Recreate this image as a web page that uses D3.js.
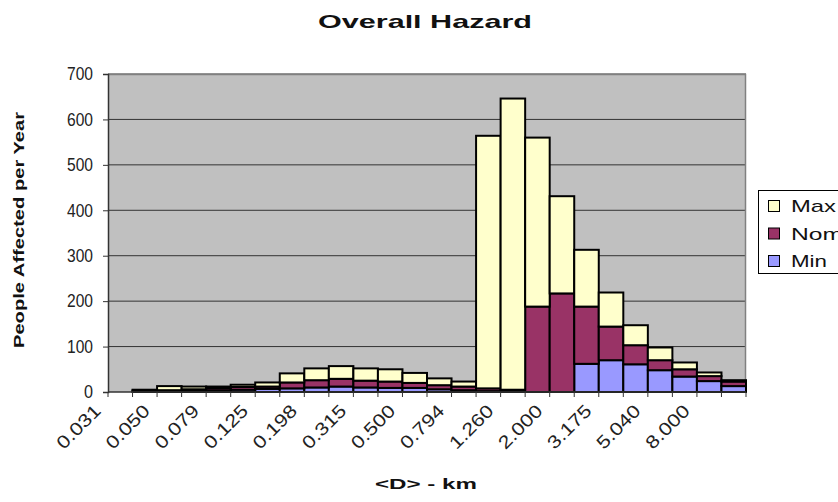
<!DOCTYPE html>
<html>
<head>
<meta charset="utf-8">
<script src="https://cdn.jsdelivr.net/npm/d3@7"></script>
<style>
  body { margin: 0; background: #fff; }
  svg { display: block; font-family: "Liberation Sans", Arial, sans-serif; }
</style>
</head>
<body>
<svg width="838" height="502"></svg>
<script>
// bins of <D> in km (every other one is labelled on the axis)
const categories = ['0.031','0.040','0.050','0.063','0.079','0.100','0.125','0.158','0.198','0.250',
  '0.315','0.397','0.500','0.630','0.794','1.000','1.260','1.587','2.000','2.520',
  '3.175','4.000','5.040','6.350','8.000','10.079'];
// stacked segments, bottom to top
const minVals = [0,1,1,2,3,5,7,8,10,12,10,9,9,6,4,2,1,0,0,62,70,61,48,34,24,13];
const nomVals = [0,2,3,4,5,6,5,13,16,17,15,14,11,9,8,6,4,188,217,126,74,42,22,16,11,10];
const maxVals = [0,2,9,6,4,5,9,20,26,28,27,27,22,15,11,556,641,372,214,125,75,44,28,15,8,3];
const seriesNames = ['Min','Nom','Max'];
const colors = {Min: '#9999ff', Nom: '#993366', Max: '#ffffcc'};
const yTicks = [0,100,200,300,400,500,600,700];

const svg = d3.select('svg');
const margin = {top: 74, left: 108, right: 92, bottom: 110};
const width = +svg.attr('width');
const height = +svg.attr('height');
const plotW = width - margin.left - margin.right;
const plotH = height - margin.top - margin.bottom;

const data = categories.map((c, i) => ({cat: c, Min: minVals[i], Nom: nomVals[i], Max: maxVals[i]}));

const x = d3.scaleBand().domain(categories).range([0, plotW]).padding(0);
const y = d3.scaleLinear().domain([0, 700]).range([plotH, 0]);

const g = svg.append('g').attr('transform', `translate(${margin.left},${margin.top})`);

// plot area
g.append('rect').attr('width', plotW).attr('height', plotH).attr('fill', '#c0c0c0');

// gridlines
g.append('g').selectAll('line').data(yTicks.slice(1))
  .enter().append('line')
  .attr('x1', 0).attr('x2', plotW)
  .attr('y1', d => y(d)).attr('y2', d => y(d))
  .attr('stroke', '#333').attr('stroke-width', 1);

// frame top/right
g.append('path').attr('d', `M0,0.5H${plotW - 0.5}V${plotH}`)
  .attr('fill', 'none').attr('stroke', '#808080').attr('stroke-width', 1.5);

// bars
const stacked = d3.stack().keys(seriesNames)(data);
g.append('g').selectAll('g').data(stacked)
  .enter().append('g')
  .attr('fill', d => colors[d.key])
  .selectAll('rect').data(d => d.filter(s => s[1] - s[0] > 0))
  .enter().append('rect')
  .attr('x', d => x(d.data.cat))
  .attr('width', x.bandwidth())
  .attr('y', d => y(d[1]))
  .attr('height', d => y(d[0]) - y(d[1]))
  .attr('stroke', '#000').attr('stroke-width', 2);

// y axis
const yAxis = g.append('g').call(d3.axisLeft(y).tickValues(yTicks).tickSize(5).tickPadding(10));
yAxis.select('.domain').attr('stroke', '#333').attr('stroke-width', 1.5);
yAxis.selectAll('.tick line').attr('stroke', '#333');
yAxis.selectAll('text').attr('font-size', 18).attr('fill', '#222')
  .attr('font-family', '"Liberation Sans", Arial, sans-serif')
  .attr('textLength', d => d === 0 ? 9 : 26).attr('lengthAdjust', 'spacingAndGlyphs');

// x axis: ticks between categories, labels on every other bin edge
const xa = g.append('g').attr('transform', `translate(0,${plotH})`);
xa.append('line').attr('x1', 0).attr('x2', plotW).attr('stroke', '#333').attr('stroke-width', 1.5);
xa.selectAll('.tk').data(categories.concat(['end']))
  .enter().append('line').attr('class', 'tk')
  .attr('x1', (d, i) => i * x.step()).attr('x2', (d, i) => i * x.step())
  .attr('y1', 0).attr('y2', 5).attr('stroke', '#333');
xa.selectAll('.lbl').data(categories.filter((d, i) => i % 2 === 0))
  .enter().append('text').attr('class', 'lbl')
  .attr('transform', d => `translate(${x(d) - 6},${20}) rotate(-45)`)
  .attr('text-anchor', 'end')
  .attr('font-size', 18).attr('fill', '#222')
  .attr('textLength', 54).attr('lengthAdjust', 'spacingAndGlyphs')
  .text(d => d);

// titles
svg.append('text').attr('x', 425).attr('y', 28).attr('text-anchor', 'middle')
  .attr('font-size', 19).attr('font-weight', 'bold').attr('fill', '#111')
  .attr('textLength', 214).attr('lengthAdjust', 'spacingAndGlyphs')
  .text('Overall Hazard');

svg.append('text').attr('x', 426).attr('y', 489).attr('text-anchor', 'middle')
  .attr('font-size', 15).attr('font-weight', 'bold').attr('fill', '#111')
  .attr('textLength', 102).attr('lengthAdjust', 'spacingAndGlyphs')
  .text('<D> - km');

svg.append('text').attr('transform', 'translate(24,230) rotate(-90)').attr('text-anchor', 'middle')
  .attr('font-size', 15).attr('font-weight', 'bold').attr('fill', '#111')
  .attr('textLength', 236).attr('lengthAdjust', 'spacingAndGlyphs')
  .text('People Affected per Year');

// legend
const legend = svg.append('g').attr('transform', 'translate(758,190)');
legend.append('rect').attr('x', 0.5).attr('y', 0.5).attr('width', 100).attr('height', 83)
  .attr('fill', '#fff').attr('stroke', '#000');
const legendOrder = ['Max', 'Nom', 'Min'];
const li = legend.selectAll('.li').data(legendOrder).enter().append('g')
  .attr('transform', (d, i) => `translate(10,${16 + i * 27.5})`);
li.append('rect').attr('x', 0.5).attr('y', -5.5).attr('width', 11).attr('height', 11)
  .attr('fill', d => colors[d]).attr('stroke', '#000');
li.append('text').attr('x', 23).attr('y', 6).attr('font-size', 17).attr('fill', '#111')
  .attr('textLength', d => d === 'Nom' ? 52 : d === 'Max' ? 45 : 36)
  .attr('lengthAdjust', 'spacingAndGlyphs')
  .text(d => d);
</script>
</body>
</html>
